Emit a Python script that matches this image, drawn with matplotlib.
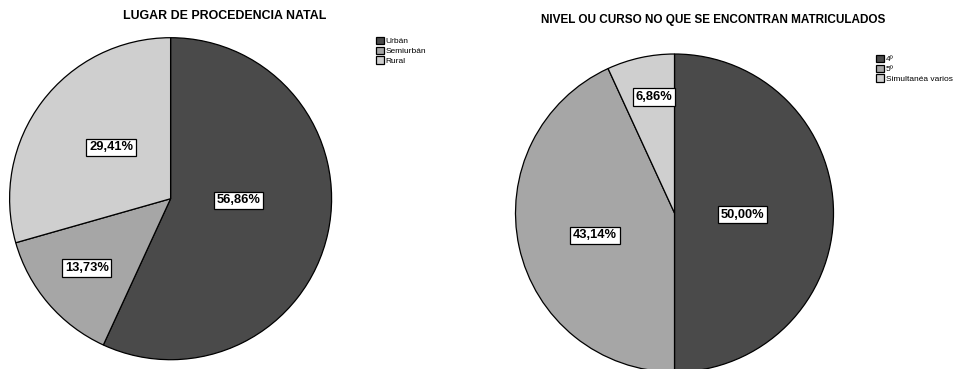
import matplotlib
matplotlib.use("Agg")
import matplotlib.pyplot as plt

# Data
left_title = "LUGAR DE PROCEDENCIA NATAL"
left_labels = ["Urbán", "Semiurbán", "Rural"]
left_values = [56.86, 13.73, 29.41]

right_title = "NIVEL OU CURSO NO QUE SE ENCONTRAN MATRICULADOS"
right_labels = ["4º", "5º", "Simultanéa varios"]
right_values = [50.00, 43.14, 6.86]

colors = ["#4a4a4a", "#a6a6a6", "#cfcfcf"]

W, H = 954, 369
fig = plt.figure(figsize=(W / 100, H / 100), dpi=100)
plt.rcParams['font.family'] = ['Liberation Sans', 'DejaVu Sans']


def pie_axes(cx, cy, r):
    ax = fig.add_axes([(cx - r) / W, 1 - (cy + r) / H, 2 * r / W, 2 * r / H])
    return ax


def fmt(v):
    return f"{v:.2f}%".replace(".", ",")


def draw(ax, values, label_pos):
    wedges, _ = ax.pie(values, colors=colors, startangle=90, counterclock=False,
                       radius=1, wedgeprops=dict(edgecolor="black", linewidth=0.9))
    ax.set_xlim(-1, 1)
    ax.set_ylim(-1, 1)
    ax.set_aspect("equal")
    ax.axis("off")
    for v, (x, y) in zip(values, label_pos):
        ax.text(x, y, fmt(v), ha="center", va="center", fontsize=9.3, fontweight="bold",
                bbox=dict(boxstyle="square,pad=0.2", fc="white", ec="black", lw=0.9))
    for w in wedges:
        w.set_clip_on(False)
    return wedges


axL = pie_axes(170.6, 198.7, 161)
wl = draw(axL, left_values, [(0.42, -0.01), (-0.52, -0.43), (-0.37, 0.32)])

axR = pie_axes(674.5, 213, 159)
wr = draw(axR, right_values, [(0.43, -0.01), (-0.50, -0.14), (-0.13, 0.73)])

fig.text(225 / W, 1 - 16 / H, left_title, ha="center", va="center", fontsize=8.9, fontweight="bold")
fig.text(713 / W, 1 - 20 / H, right_title, ha="center", va="center", fontsize=8.5, fontweight="bold")

legkw = dict(fontsize=6, frameon=False, handlelength=0.95, handleheight=0.95,
             handletextpad=0.2, labelspacing=0.15, borderpad=0, borderaxespad=0)
fig.legend(wl, left_labels, loc="upper left", bbox_to_anchor=(376 / W, 1 - 37 / H), **legkw)
fig.legend(wr, right_labels, loc="upper left", bbox_to_anchor=(876 / W, 1 - 55 / H), **legkw)

fig.savefig("out.png", dpi=100)
